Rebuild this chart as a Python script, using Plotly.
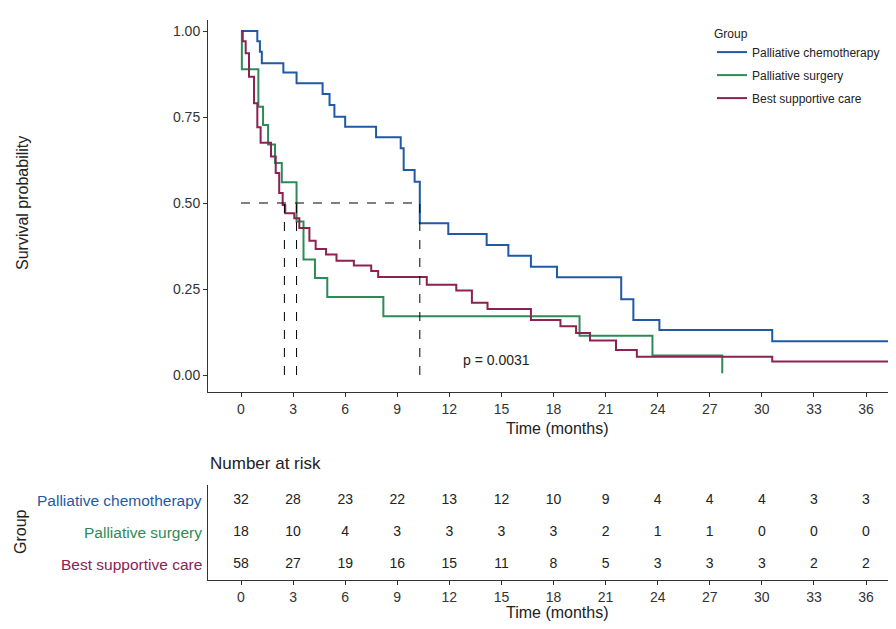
import plotly.graph_objects as go

# Kaplan-Meier steps (time in months, survival)
chemo_t = [0, 0.94, 1.09, 1.2, 2.44, 3.2, 4.7, 5.1, 5.38, 6.0, 7.78, 9.2, 9.37, 10.0, 10.3,
           11.94, 14.15, 15.4, 16.7, 18.2, 21.9, 22.6, 24.1, 30.6, 38]
chemo_s = [1.0, 0.97, 0.94, 0.906, 0.879, 0.848, 0.817, 0.785, 0.751, 0.722, 0.691, 0.659, 0.596,
           0.562, 0.441, 0.41, 0.378, 0.347, 0.315, 0.284, 0.22, 0.16, 0.131, 0.098, 0.098]
surg_t = [0, 0.05, 1.0, 1.27, 1.56, 1.96, 2.35, 3.2, 3.6, 4.26, 4.97, 8.2, 19.5, 23.7, 27.7, 27.72]
surg_s = [1.0, 0.889, 0.78, 0.727, 0.67, 0.616, 0.56, 0.446, 0.336, 0.282, 0.227, 0.171, 0.114,
          0.057, 0.057, 0.005]
bsc_t = [0, 0.1, 0.27, 0.46, 0.75, 0.94, 1.13, 1.73, 2.0, 2.2, 2.4, 2.55, 3.07, 3.36, 3.94, 4.3,
         4.9, 5.5, 6.5, 7.5, 7.9, 10.7, 12.4, 13.3, 14.2, 16.7, 18.4, 19.3, 20.1, 21.6, 22.8,
         30.6, 38]
bsc_s = [1.0, 0.97, 0.935, 0.867, 0.79, 0.72, 0.675, 0.635, 0.587, 0.529, 0.494, 0.47, 0.456,
         0.427, 0.39, 0.366, 0.35, 0.332, 0.318, 0.302, 0.285, 0.262, 0.246, 0.21, 0.192, 0.16,
         0.142, 0.122, 0.1, 0.073, 0.053, 0.039, 0.039]

median_times = [2.5, 3.2, 10.3]

groups = ["Palliative chemotherapy", "Palliative surgery", "Best supportive care"]
colors = ["#1f5aa6", "#2e8b57", "#8b2252"]

risk_times = [0, 3, 6, 9, 12, 15, 18, 21, 24, 27, 30, 33, 36]
risk_chemo = [32, 28, 23, 22, 13, 12, 10, 9, 4, 4, 4, 3, 3]
risk_surg = [18, 10, 4, 3, 3, 3, 3, 2, 1, 1, 0, 0, 0]
risk_bsc = [58, 27, 19, 16, 15, 11, 8, 5, 3, 3, 3, 2, 2]

W, H = 896, 629
OFF = 8  # page body margin


def px(p):
    return (p - OFF) / W


def py(p):
    return 1 - (p - OFF) / H


fig = go.Figure()

curves = [(chemo_t, chemo_s), (surg_t, surg_s), (bsc_t, bsc_s)]
for (t, s), name, c in zip(curves, groups, colors):
    fig.add_trace(go.Scatter(x=t, y=s, mode="lines", line=dict(color=c, width=2, shape="hv"),
                             name=name, legendgroup=name, xaxis="x", yaxis="y"))

# median guide lines
fig.add_trace(go.Scatter(x=[0, max(median_times)], y=[0.5, 0.5], mode="lines",
                         line=dict(color="black", width=1, dash="dash"), showlegend=False))
for m in median_times:
    fig.add_trace(go.Scatter(x=[m, m], y=[0, 0.5], mode="lines",
                             line=dict(color="black", width=1, dash="dash"), showlegend=False))

# risk table
for i, (vals, c) in enumerate(zip([risk_chemo, risk_surg, risk_bsc], colors)):
    fig.add_trace(go.Scatter(x=risk_times, y=[2 - i] * len(risk_times), mode="text",
                             text=[str(v) for v in vals], textfont=dict(size=14, color="#222"),
                             showlegend=False, xaxis="x2", yaxis="y2"))
    fig.add_annotation(x=px(204), y=2 - i, xref="paper", yref="y2", text=groups[i],
                       showarrow=False, xanchor="right", yanchor="middle",
                       font=dict(size=15.5, color=c))

# x: 0 -> px 241, 36 -> px 866 ; domain starts at px 208
ppm = (866 - 241) / 36
x_range = [(208 - 241) / ppm, (W + OFF - 241) / ppm]

axis_common = dict(showline=True, linecolor="#333", linewidth=1, ticks="outside",
                   tickcolor="#333", ticklen=4, showgrid=False, zeroline=False,
                   tickfont=dict(size=14, color="#333"), tickvals=risk_times,
                   range=x_range, automargin=False)

# y: 1.00 -> px 31, 0.00 -> px 375 ; domain px 20..392
ppu = 375 - 31
y_range = [(375 - 392) / ppu, (375 - 20) / ppu]

fig.update_layout(
    width=W, height=H, margin=dict(l=0, r=0, t=0, b=0),
    plot_bgcolor="white", paper_bgcolor="white",
    font=dict(family="Liberation Sans, Arial", color="#222"),
    xaxis=dict(domain=[px(208), 1], anchor="y", **axis_common),
    yaxis=dict(domain=[py(392), py(20)], range=y_range, anchor="x",
               showline=True, linecolor="#333", ticks="outside", tickcolor="#333", ticklen=4,
               showgrid=False, zeroline=False, tickvals=[0, 0.25, 0.5, 0.75, 1.0],
               ticktext=["0.00", "0.25", "0.50", "0.75", "1.00"],
               tickfont=dict(size=14, color="#333"), automargin=False),
    xaxis2=dict(domain=[px(208), 1], anchor="y2", **axis_common),
    yaxis2=dict(domain=[py(580), py(485)], range=[-0.5, 2.5], anchor="x2",
                showline=True, linecolor="#333", showticklabels=False, ticks="",
                showgrid=False, zeroline=False, automargin=False),
    legend=dict(x=px(712), y=py(22), xanchor="left", yanchor="top",
                title=dict(text="Group", font=dict(size=12)), traceorder="grouped",
                tracegroupgap=4, font=dict(size=12, color="#222"),
                bgcolor="rgba(0,0,0,0)"),
)


def label(x, y, text, size=16, angle=0, anchor="center"):
    fig.add_annotation(x=px(x), y=py(y), xref="paper", yref="paper", text=text,
                       textangle=angle, showarrow=False, xanchor=anchor, yanchor="middle",
                       font=dict(size=size, color="#222"))


label(557, 428, "Time (months)")
label(557, 612, "Time (months)")
label(22, 203, "Survival probability", angle=-90)
label(20, 532, "Group", angle=-90)
label(208, 463, "Number at risk", size=17, anchor="left")
fig.add_annotation(x=14.7, y=0.045, xref="x", yref="y", text="p = 0.0031", showarrow=False,
                   yanchor="middle", font=dict(size=14, color="#222"))

fig.write_html("out.html")
